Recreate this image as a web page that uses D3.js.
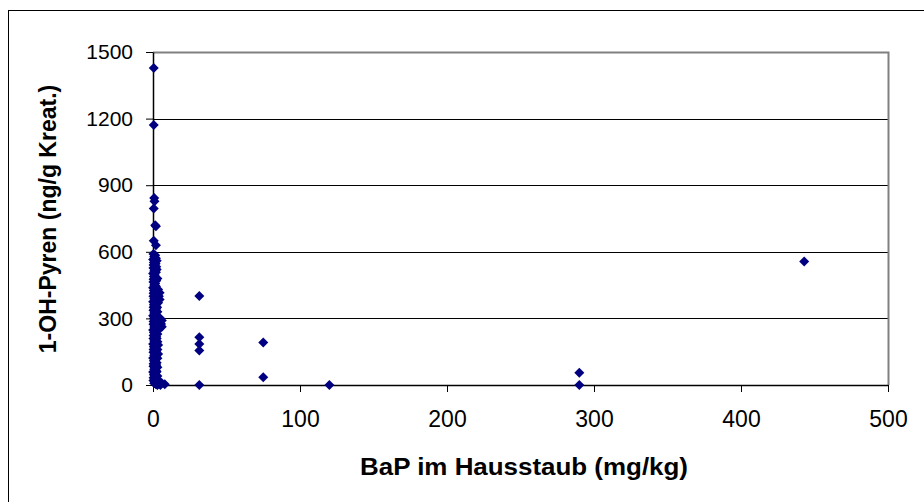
<!DOCTYPE html>
<html>
<head>
<meta charset="utf-8">
<script src="https://cdn.jsdelivr.net/npm/d3@7"></script>
<style>
  html, body { margin: 0; padding: 0; background: #fff; }
  svg { display: block; }
  text { font-family: Arial, "Liberation Sans", sans-serif; }
</style>
</head>
<body>
<script>
// ---- data ----
const xTicks = [0, 100, 200, 300, 400, 500];
const yTicks = [0, 300, 600, 900, 1200, 1500];
const xTitle = "BaP im Hausstaub (mg/kg)";
const yTitle = "1-OH-Pyren (ng/g Kreat.)";

// BaP in house dust (mg/kg)
const bap = [
  // isolated points
  0.5, 0.5, 0.8, 1.0, 0.5, 1.5, 2.0, 0.5, 2.0,
  31.5, 31.5, 31.5, 31.5, 31.5, 75, 75, 120, 290, 290, 443,
  // dense column near zero
  0.3, 1.5, 0.8, 2.0, 0.1, 1.2, 0.6, 1.8, 0.4, 2.2,
  0.3, 1.5, 0.8, 2.0, 0.1, 1.2, 0.6, 1.8, 0.4, 2.2,
  0.3, 1.5, 0.8, 2.0, 0.1, 1.2, 0.6, 1.8, 0.4, 2.2,
  0.3, 1.5, 0.8, 2.0, 0.1, 1.2, 0.6, 1.8, 0.4, 2.2,
  0.3, 1.5, 0.8, 2.0, 0.1, 1.2, 0.6, 1.8, 0.4, 2.2,
  0.3, 1.5, 0.8, 2.0, 0.1, 1.2, 0.6, 1.8, 0.4, 2.2,
  0.3, 1.5, 0.8, 2.0, 0.1, 1.2, 0.6, 1.8, 0.4, 2.2,
  0.3, 1.5, 0.8, 2.0, 0.1, 1.2, 0.6, 1.8, 0.4, 2.2,
  0.3, 1.5, 0.8, 2.0, 0.1, 1.2, 0.6, 1.8, 0.4, 2.2,
  0.3, 1.5, 0.8, 2.0,
  // points slightly to the right
  3.5, 4.5, 4.0, 4.5, 3.5, 2.8, 3.0, 5.0, 6.0, 5.5,
  6.0, 4.0, 3.0, 2.5, 3.0, 3.5, 3.0, 3.5, 3.0, 2.5,
  3.0, 2.5, 3.0, 4.0, 6.0, 8.0, 5.0, 3.0, 2.5, 3.0, 2.5
];
// 1-OH-pyrene (ng/g creatinine)
const pyren = [
  1428, 1171, 842, 828, 795, 720, 715, 650, 630,
  401, 215, 185, 155, 0, 191, 35, 0, 55, 0, 556,
  590, 584, 578, 571, 565, 559, 552, 546, 540, 533,
  527, 521, 514, 508, 502, 495, 489, 483, 476, 470,
  464, 457, 451, 445, 438, 432, 426, 419, 413, 407,
  400, 394, 388, 381, 375, 369, 362, 356, 350, 343,
  337, 331, 324, 318, 312, 305, 299, 293, 286, 280,
  274, 267, 261, 255, 248, 242, 236, 229, 223, 217,
  210, 204, 198, 191, 185, 179, 172, 166, 160, 153,
  147, 141, 134, 128, 122, 115, 109, 103, 96, 90,
  84, 77, 71, 65, 58, 52, 46, 39, 33, 27,
  20, 14, 8, 3,
  430, 415, 400, 385, 370, 350, 330, 300, 290, 275,
  262, 250, 230, 210, 195, 180, 160, 140, 120, 100,
  80, 60, 40, 20, 8, 3, 0, 0, 520, 480, 560
];

// ---- chart ----
const W = 924, H = 502;
const svg = d3.select("body").append("svg").attr("width", W).attr("height", H);

// outer chart border
svg.append("rect").attr("x", 8.5).attr("y", 10.5).attr("width", W).attr("height", H)
  .attr("fill", "none").attr("stroke", "#000").attr("stroke-width", 1);

const x = d3.scaleLinear().domain([0, 500]).range([153, 888]);
const y = d3.scaleLinear().domain([0, 1500]).range([385, 52]);

// gridlines
svg.append("g").selectAll("line").data(yTicks.filter(d => d > 0 && d < 1500)).join("line")
  .attr("x1", x(0)).attr("x2", x(500))
  .attr("y1", d => Math.round(y(d)) + 0.5).attr("y2", d => Math.round(y(d)) + 0.5)
  .attr("stroke", "#000").attr("stroke-width", 1);

// plot border top/right (grey)
svg.append("path")
  .attr("d", `M${x(0)},${Math.round(y(1500)) + 0.5}H${x(500) + 0.5}V${y(0)}`)
  .attr("fill", "none").attr("stroke", "#808080").attr("stroke-width", 2);

// axes
const fmt = d3.format("d");
const yAxis = svg.append("g").attr("transform", `translate(${x(0)},0)`)
  .call(d3.axisLeft(y).tickValues(yTicks).tickFormat(fmt).tickSize(7).tickSizeOuter(0).tickPadding(13));
const xAxis = svg.append("g").attr("transform", `translate(0,${y(0)})`)
  .call(d3.axisBottom(x).tickValues(xTicks).tickFormat(fmt).tickSize(7).tickSizeOuter(0).tickPadding(19));
[yAxis, xAxis].forEach(g => {
  g.select(".domain").attr("stroke", "#000").attr("stroke-width", 1.5);
  g.selectAll(".tick line").attr("stroke", "#000");
  g.selectAll("text").attr("fill", "#000")
    .attr("font-family", "Arial, 'Liberation Sans', sans-serif");
});
yAxis.selectAll("text").attr("font-size", 21);
xAxis.selectAll("text").attr("font-size", 23);

// points
const pts = bap.map((b, i) => ({ b, p: pyren[i] }));
const sym = d3.symbol().type(d3.symbolSquare).size(50);
svg.append("g").selectAll("path").data(pts).join("path")
  .attr("d", sym)
  .attr("transform", d => `translate(${x(d.b)},${y(d.p)}) rotate(45)`)
  .attr("fill", "#000080");

// titles
svg.append("text").attr("x", 524).attr("y", 475).attr("text-anchor", "middle")
  .attr("font-size", 23).attr("font-weight", "bold")
  .attr("textLength", 328).attr("lengthAdjust", "spacingAndGlyphs").text(xTitle);
svg.append("text").attr("transform", `translate(56,219) rotate(-90)`)
  .attr("text-anchor", "middle").attr("font-size", 23).attr("font-weight", "bold").text(yTitle);
</script>
</body>
</html>
